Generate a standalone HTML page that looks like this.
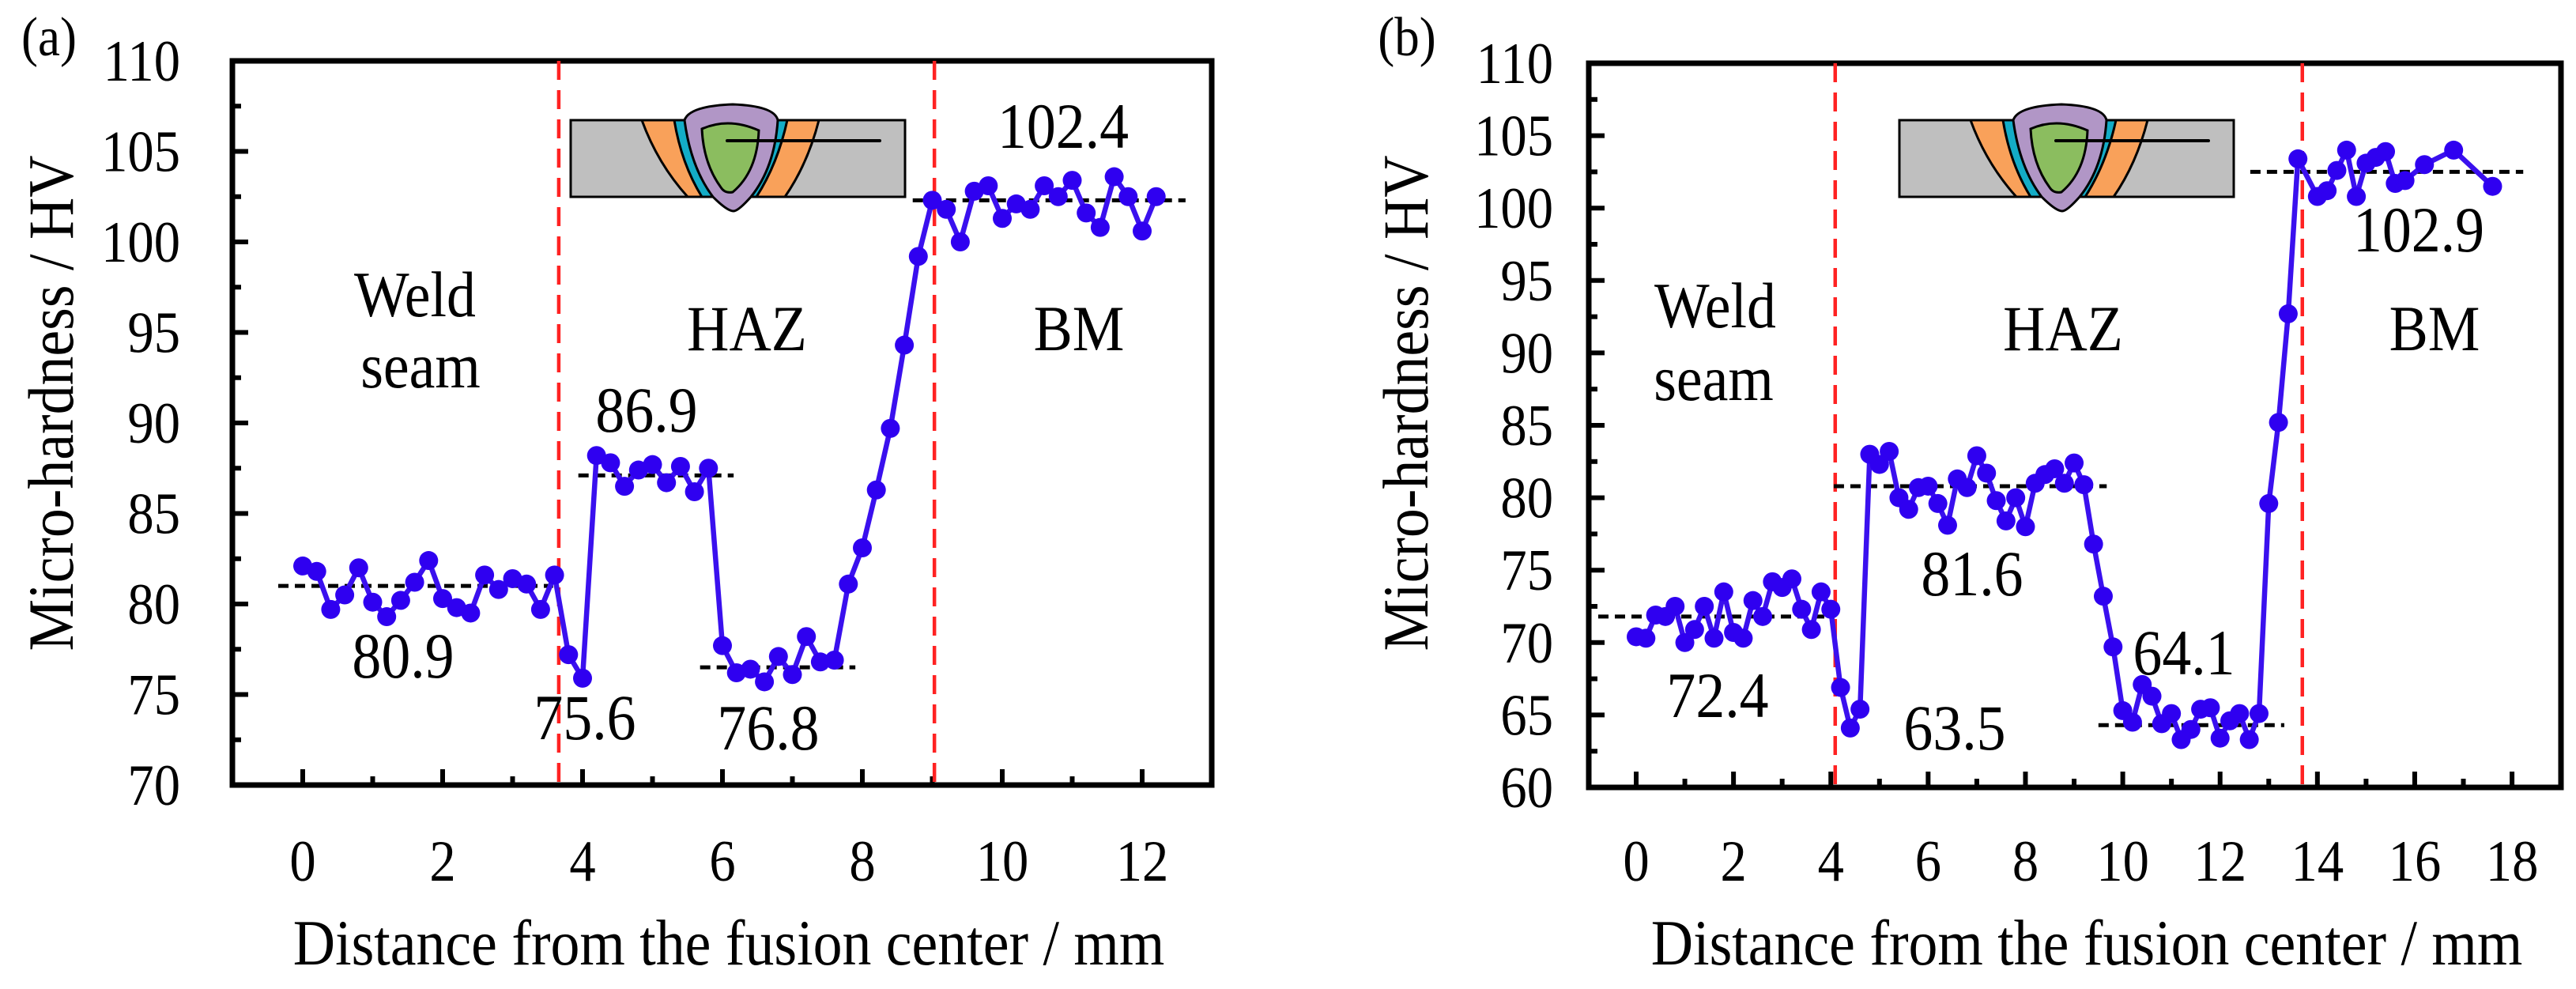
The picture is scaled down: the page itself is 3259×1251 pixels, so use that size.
<!DOCTYPE html>
<html><head><meta charset="utf-8"><style>
html,body{margin:0;padding:0;background:#fff;}
</style></head><body>
<svg id="chart" width="3259" height="1246" viewBox="0 0 3259 1246" xmlns="http://www.w3.org/2000/svg">
<defs>
<g id="inset">
<rect x="0" y="0" width="423" height="97" fill="#bfbfbf" stroke="#000" stroke-width="3"/>
<path d="M90,0 L314,0 Q300,55 271,97 L148,97 Q110,55 90,0 Z" fill="#f9a15a" stroke="#000" stroke-width="3"/>
<path d="M131,0 L274,0 Q262,55 235,97 L166,97 Q140,55 131,0 Z" fill="#13acc6" stroke="#000" stroke-width="3"/>
<path d="M144,0 Q150,-18 205,-20 Q258,-18 262,0 Q258,60 228,97 Q212,115 206,115 Q198,115 180,97 Q152,60 144,0 Z" fill="#b196c6" stroke="#000" stroke-width="3"/>
<path d="M166,11 Q200,-4 238,13 Q236,65 205,91 Q195,93 190,85 Q168,55 166,11 Z" fill="#8bbd5f" stroke="#000" stroke-width="3"/>
<line x1="198" y1="26" x2="391" y2="26" stroke="#000" stroke-width="4" stroke-linecap="round"/>
</g>
</defs>
</svg>
<script>
// Panel (a) data
const aX = [0,0.2,0.4,0.6,0.8,1.0,1.2,1.4,1.6,1.8,2.0,2.2,2.4,2.6,2.8,3.0,3.2,3.4,3.6,3.8,4.0,4.2,4.4,4.6,4.8,5.0,5.2,5.4,5.6,5.8,6.0,6.2,6.4,6.6,6.8,7.0,7.2,7.4,7.6,7.8,8.0,8.2,8.4,8.6,8.8,9.0,9.2,9.4,9.6,9.8,10.0,10.2,10.4,10.6,10.8,11.0,11.2,11.4,11.6,11.8,12.0,12.2];
const aY = [82.1,81.8,79.7,80.5,82.0,80.1,79.3,80.2,81.2,82.4,80.3,79.8,79.5,81.6,80.8,81.4,81.1,79.7,81.6,77.2,75.9,88.2,87.8,86.5,87.4,87.7,86.7,87.6,86.2,87.5,77.7,76.2,76.4,75.7,77.1,76.1,78.2,76.8,76.9,81.1,83.1,86.3,89.7,94.3,99.2,102.3,101.8,100.0,102.8,103.1,101.3,102.1,101.8,103.1,102.5,103.4,101.6,100.8,103.6,102.5,100.6,102.5];
const aLevels = [81.0,87.1,76.5,102.3];
const aLevelFrom = [-0.35,3.94,5.68,8.72];
const aLevelTo = [3.58,6.16,7.9,12.62];
const aBounds = [3.66,9.03];
const aXTicks = [0,2,4,6,8,10,12];
const aYTicks = [70,75,80,85,90,95,100,105,110];
// Panel (b) data
const bX = [0,0.2,0.4,0.6,0.8,1.0,1.2,1.4,1.6,1.8,2.0,2.2,2.4,2.6,2.8,3.0,3.2,3.4,3.6,3.8,4.0,4.2,4.4,4.6,4.8,5.0,5.2,5.4,5.6,5.8,6.0,6.2,6.4,6.6,6.8,7.0,7.2,7.4,7.6,7.8,8.0,8.2,8.4,8.6,8.8,9.0,9.2,9.4,9.6,9.8,10.0,10.2,10.4,10.6,10.8,11.0,11.2,11.4,11.6,11.8,12.0,12.2,12.4,12.6,12.8,13.0,13.2,13.4,13.6,14.0,14.2,14.4,14.6,14.8,15.0,15.2,15.4,15.6,15.8,16.2,16.8,17.6];
const bY = [70.4,70.3,71.9,71.8,72.5,70.0,70.9,72.5,70.3,73.5,70.7,70.3,72.9,71.8,74.2,73.8,74.4,72.3,70.9,73.5,72.3,66.9,64.1,65.4,83.0,82.3,83.2,80.0,79.2,80.7,80.8,79.6,78.1,81.3,80.7,82.9,81.7,79.8,78.4,80.0,78.0,81.0,81.6,82.0,81.0,82.4,80.9,76.8,73.2,69.7,65.3,64.5,67.1,66.3,64.4,65.1,63.3,64.0,65.4,65.5,63.4,64.6,65.1,63.3,65.1,79.6,85.2,92.7,103.4,100.8,101.2,102.6,104.0,100.8,103.1,103.5,103.9,101.7,101.9,103.0,104.0,101.5];
const bLevels = [71.8,80.8,64.3,102.5];
const bLevelFrom = [-0.78,4.06,9.5,12.62];
const bLevelTo = [3.98,9.67,13.32,18.23];
const bBounds = [4.09,13.69];
const bXTicks = [0,2,4,6,8,10,12,14,16,18];
const bYTicks = [60,65,70,75,80,85,90,95,100,105,110];

const NS = "http://www.w3.org/2000/svg";
const svg = document.getElementById('chart');
function mk(tag, attrs, parent){
  const e = document.createElementNS(NS, tag);
  for (const k in attrs) e.setAttribute(k, attrs[k]);
  (parent||svg).appendChild(e);
  return e;
}
function txt(s, x, y, size, anchor, parent, rot){
  const t = mk('text', {x:0, y:0, 'text-anchor':anchor||'middle', fill:'#000',
    transform:'translate(' + x + ',' + y + ')' + (rot ? ' rotate(-90)' : '') + ' scale(0.9,1)'}, parent);
  t.style.fontFamily = '"Liberation Serif", "Times New Roman", "DejaVu Serif", serif';
  t.style.fontSize = size + 'px';
  t.textContent = s;
  return t;
}

function panel(p){
  const g = mk('g', {});
  
  
  const sx = v => p.x0 + (v - p.xmin) * p.pxX;
  const sy = v => p.bottom - (v - p.ymin) / (p.ymax - p.ymin) * (p.bottom - p.top);

  for (let i = 0; i < p.yTicks.length; i++){
    const v = p.yTicks[i];
    const t = mk('line', {x1:p.left, x2:p.left+20, y1:sy(v), y2:sy(v), stroke:'#000','stroke-width':6}, g);
    
    
    const lb = txt(String(v), p.ylabX, sy(v)+25, 74, 'end', g);
    
    
    if (i < p.yTicks.length-1){
      const m = (v + p.yTicks[i+1]) / 2;
      mk('line', {x1:p.left, x2:p.left+11, y1:sy(m), y2:sy(m), stroke:'#000','stroke-width':6}, g);
    }
  }
  for (let i = 0; i < p.xTicks.length; i++){
    const v = p.xTicks[i];
    const t = mk('line', {x1:sx(v), x2:sx(v), y1:p.bottom, y2:p.bottom-20, stroke:'#000','stroke-width':6}, g);
    
    
    const lb = txt(String(v), sx(v), 1114, 74, 'middle', g);
    
    
    if (i < p.xTicks.length-1){
      const m = (v + p.xTicks[i+1]) / 2;
      mk('line', {x1:sx(m), x2:sx(m), y1:p.bottom, y2:p.bottom-11, stroke:'#000','stroke-width':6}, g);
    }
  }
  const fr = mk('rect', {x:p.left, y:p.top, width:p.right-p.left, height:p.bottom-p.top, fill:'none', stroke:'#000','stroke-width':7}, g);
  
  

  const ins = mk('use', {href:'#inset', transform:'translate('+p.insetX+',152)'}, g);
  
  

  for (const b of p.bounds){
    const l = mk('line', {x1:sx(b), x2:sx(b), y1:p.top, y2:p.bottom, stroke:'#ff2222','stroke-width':4.5,'stroke-dasharray':'24,13'}, g);
    
    
  }
  for (let i = 0; i < p.levels.length; i++){
    const l = mk('line', {x1:sx(p.from[i]), x2:sx(p.to[i]), y1:sy(p.levels[i]), y2:sy(p.levels[i]), stroke:'#000','stroke-width':5,'stroke-dasharray':'13,8'}, g);
    
    
  }
  let d = '';
  for (let i = 0; i < p.xs.length; i++) d += (i ? 'L' : 'M') + sx(p.xs[i]).toFixed(1) + ',' + sy(p.ys[i]).toFixed(1);
  const ln = mk('path', {d:d, fill:'none', stroke:'#3a10ee','stroke-width':6.5,'stroke-linejoin':'round'}, g);
  
  
  for (let i = 0; i < p.xs.length; i++){
    const c = mk('circle', {cx:sx(p.xs[i]), cy:sy(p.ys[i]), r:12, fill:'#2f00f0'}, g);
    
    
  }
  for (const a of p.notes){
    const t = txt(a[0], a[1], a[2], 82, 'middle', g);
    
    
  }
  const pl = txt(p.label, p.labelX, 70, 70, 'middle', g);
  
  
  const xt = txt('Distance from the fusion center / mm', p.xTitleX, 1220, 82, 'middle', g);
  
  
  const yt = txt('Micro-hardness / HV', p.yTitleX, 510, 82, 'middle', g, true);
  
  
}

panel({name:'panel-a', left:294, right:1533, top:77, bottom:993, x0:383, xmin:0, pxX:88.5, ymin:70, ymax:110,
  xs:aX, ys:aY, levels:aLevels, from:aLevelFrom, to:aLevelTo, bounds:aBounds, xTicks:aXTicks, yTicks:aYTicks,
  ylabX:228, insetX:722, label:'(a)', labelX:62, xTitleX:922, yTitleX:92,
  notes:[['102.4',1345,187],['Weld',525,400],['seam',532,490],['HAZ',945,443],['BM',1365,443],['86.9',818,546],['80.9',510,857],['75.6',740,935],['76.8',972,948]]});

panel({name:'panel-b', left:2010, right:3240, top:80, bottom:996, x0:2070, xmin:0, pxX:61.56, ymin:60, ymax:110,
  xs:bX, ys:bY, levels:bLevels, from:bLevelFrom, to:bLevelTo, bounds:bBounds, xTicks:bXTicks, yTicks:bYTicks,
  ylabX:1965, insetX:2403, label:'(b)', labelX:1780, xTitleX:2640, yTitleX:1806,
  notes:[['Weld',2170,414],['seam',2168,506],['HAZ',2610,443],['BM',3080,443],['81.6',2495,753],['72.4',2173,907],['63.5',2473,948],['64.1',2763,853],['102.9',3060,318]]});
</script>
</body></html>
